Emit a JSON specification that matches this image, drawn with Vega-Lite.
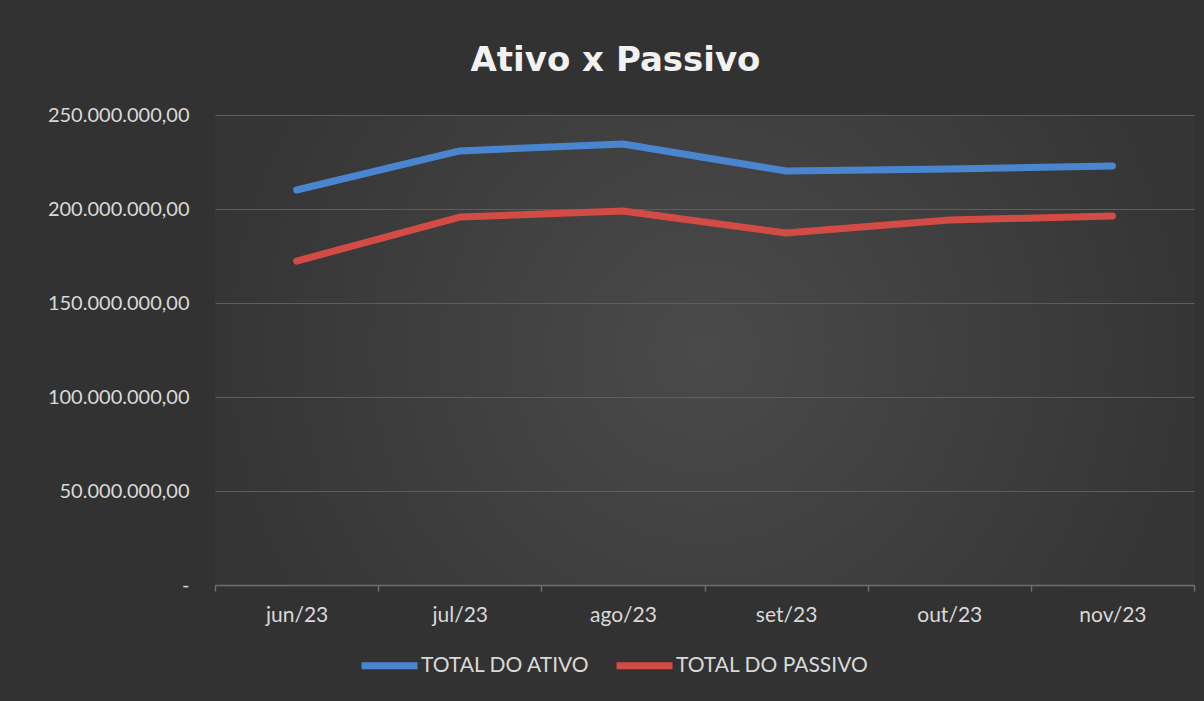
{
  "$schema": "https://vega.github.io/schema/vega-lite/v6.json",
  "autosize": "none",
  "width": 979,
  "height": 470,
  "padding": {"left": 215, "top": 115, "right": 10, "bottom": 116},
  "background": "#323232",
  "config": {
    "locale": {"number": {"decimal": ",", "thousands": ".", "grouping": [3], "currency": ["R$", ""]}},
    "view": {"stroke": null, "fill": {"gradient": "radial", "stops": [{"offset": 0, "color": "#4a4a4a"}, {"offset": 1, "color": "#353535"}]}}
  },
  "title": {
    "text": "Ativo x Passivo",
    "font": "DejaVu Sans",
    "fontWeight": "bold",
    "fontSize": 34,
    "color": "#f2f2f2",
    "anchor": "middle",
    "dx": -89,
    "offset": 27
  },
  "data": {
    "values": [
      {"mes": "jun/23", "serie": "TOTAL DO ATIVO", "valor": 210100000},
      {"mes": "jul/23", "serie": "TOTAL DO ATIVO", "valor": 230900000},
      {"mes": "ago/23", "serie": "TOTAL DO ATIVO", "valor": 234600000},
      {"mes": "set/23", "serie": "TOTAL DO ATIVO", "valor": 220200000},
      {"mes": "out/23", "serie": "TOTAL DO ATIVO", "valor": 221300000},
      {"mes": "nov/23", "serie": "TOTAL DO ATIVO", "valor": 222900000},
      {"mes": "jun/23", "serie": "TOTAL DO PASSIVO", "valor": 172300000},
      {"mes": "jul/23", "serie": "TOTAL DO PASSIVO", "valor": 195700000},
      {"mes": "ago/23", "serie": "TOTAL DO PASSIVO", "valor": 198900000},
      {"mes": "set/23", "serie": "TOTAL DO PASSIVO", "valor": 187200000},
      {"mes": "out/23", "serie": "TOTAL DO PASSIVO", "valor": 194100000},
      {"mes": "nov/23", "serie": "TOTAL DO PASSIVO", "valor": 196300000}
    ]
  },
  "mark": {"type": "line", "strokeWidth": 7, "strokeCap": "round", "strokeJoin": "round"},
  "encoding": {
    "x": {
      "field": "mes",
      "type": "ordinal",
      "sort": null,
      "bandPosition": 0.5,
      "scale": {"type": "band", "paddingInner": 0, "paddingOuter": 0},
      "axis": {
        "title": null,
        "labelAngle": 0,
        "labelFont": "Lato",
        "labelFontSize": 21,
        "labelColor": "#d9d9d9",
        "labelPadding": 13,
        "domainColor": "#6e6e6e",
        "domainWidth": 1.5,
        "tickColor": "#6e6e6e",
        "tickBand": "extent",
        "tickSize": 6,
        "tickWidth": 1.5,
        "grid": false
      }
    },
    "y": {
      "field": "valor",
      "type": "quantitative",
      "scale": {"domain": [0, 250000000], "nice": false},
      "axis": {
        "title": null,
        "values": [0, 50000000, 100000000, 150000000, 200000000, 250000000],
        "labelExpr": "datum.value == 0 ? '-' : format(datum.value, ',.2f')",
        "labelFont": "Lato",
        "labelFontSize": 20,
        "labelColor": "#d9d9d9",
        "labelPadding": 26,
        "domain": false,
        "ticks": false,
        "grid": true,
        "gridColor": "#5e5e5e",
        "gridWidth": 1.2
      }
    },
    "color": {
      "field": "serie",
      "type": "nominal",
      "scale": {"domain": ["TOTAL DO ATIVO", "TOTAL DO PASSIVO"], "range": ["#4a86d0", "#d24b45"]},
      "legend": {
        "title": null,
        "orient": "none",
        "direction": "horizontal",
        "legendX": 143,
        "legendY": 519,
        "symbolType": "stroke",
        "symbolSize": 3136,
        "symbolStrokeWidth": 7,
        "labelFont": "Lato",
        "labelFontSize": 21,
        "labelLimit": 400,
        "labelColor": "#d9d9d9",
        "labelOffset": 0,
        "columnPadding": 12
      }
    }
  }
}
